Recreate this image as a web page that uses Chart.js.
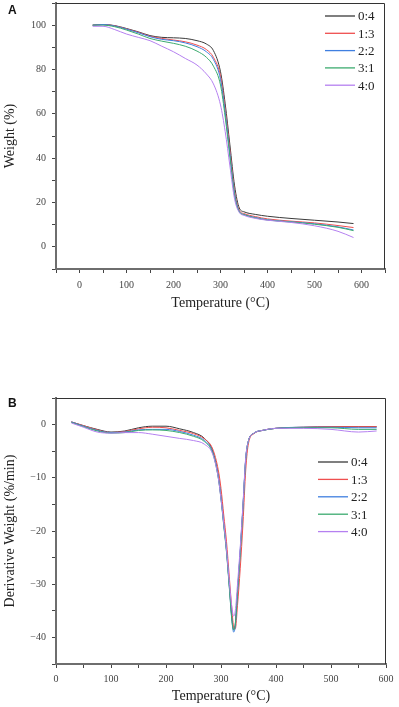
<!DOCTYPE html>
<html>
<head>
<meta charset="utf-8">
<script src="https://cdn.jsdelivr.net/npm/chart.js@4"></script>
<style>
  html, body { margin: 0; padding: 0; background: #fff; }
  #wrap { position: relative; width: 399px; height: 707px; overflow: hidden; }
  canvas { position: absolute; left: 0; }
  #cA { top: 0; }
  #cB { top: 380px; }
  .tag { position: absolute; font: bold 12px "Liberation Sans", Arial, sans-serif; color: #111; }
</style>
</head>
<body>
<div id="wrap">
  <canvas id="cA" width="399" height="320" style="width:399px;height:320px"></canvas>
  <canvas id="cB" width="399" height="327" style="width:399px;height:327px"></canvas>
  <div class="tag" style="left:8px;top:3px">A</div>
  <div class="tag" style="left:8px;top:396px">B</div>
</div>
<script>
// ---- data ----
const seriesNames = ["0:4", "1:3", "2:2", "3:1", "4:0"];
const seriesColors = ["#3a3a3a", "#ef4f4f", "#3f7fe0", "#3cab6f", "#b580f0"];

// A: TGA, weight (%)
const tgaTemp = [28, 50, 75, 100, 125, 150, 175, 200, 225, 250, 270, 285, 300, 310, 320, 330, 340, 350, 375, 400, 450, 500, 550, 583];
const w04 = [100, 100.3, 99.8, 98.5, 97, 95.3, 94.5, 94.3, 94, 93, 91.5, 88.5, 79, 64.5, 46, 27.5, 17.5, 15.8, 14.6, 13.8, 12.8, 12, 11.2, 10.5];
const w13 = [100, 100.3, 99.7, 98.3, 96.8, 95, 94, 93.3, 92.5, 91, 89, 85.5, 77, 62, 43.5, 25, 16.5, 15, 13.6, 12.6, 11.6, 10.8, 9.6, 8.7];
const w22 = [100, 100.3, 99.6, 98.2, 96.6, 94.8, 93.6, 93, 92, 90.3, 88, 84.5, 75.5, 60.5, 42, 24, 16, 14.6, 13.2, 12.2, 11.3, 10.4, 9, 7.6];
const w31 = [100, 100, 99.3, 97.8, 96, 94, 92.8, 91.8, 90.5, 88.3, 85.5, 81.5, 73, 58.5, 40.5, 23, 15.8, 14.5, 13, 12.1, 11.2, 10.2, 8.8, 7.3];
const w40 = [99.5, 99.5, 98, 96, 94.5, 93, 90.5, 88, 85, 82, 78, 73.5, 64, 52, 36.5, 21.5, 15.5, 14.2, 12.8, 12, 11, 9.5, 7, 4.2];

// B: DTG, derivative weight (%/min)
const dtgTemp = [28, 50, 75, 100, 125, 150, 175, 200, 225, 250, 270, 285, 295, 300, 305, 310, 315, 320, 323, 326, 330, 335, 340, 345, 350, 360, 375, 400, 450, 500, 550, 583];
const d04 = [0.5, -0.2, -0.9, -1.4, -1.2, -0.6, -0.3, -0.3, -0.8, -1.5, -2.6, -5, -9.5, -13.5, -18.5, -23.5, -30, -36.5, -38.5, -37.5, -31.5, -24, -15.5, -6.5, -3, -1.6, -1.1, -0.7, -0.5, -0.4, -0.4, -0.4];
const d13 = [0.5, -0.2, -1, -1.5, -1.3, -0.8, -0.5, -0.6, -1.1, -1.7, -2.7, -4.6, -8.5, -12, -17, -22, -28.5, -35, -38, -38.4, -34, -27, -18.5, -8.5, -3.5, -1.7, -1.1, -0.7, -0.5, -0.4, -0.4, -0.4];
const d22 = [0.5, -0.3, -1.1, -1.5, -1.4, -1, -0.9, -0.9, -1.3, -2, -3, -5.2, -9.8, -13.8, -18.8, -23.8, -30.3, -37, -39, -37.8, -31.5, -23.5, -15, -6.2, -3, -1.6, -1.1, -0.7, -0.5, -0.5, -0.6, -0.6];
const d31 = [0.4, -0.4, -1.2, -1.6, -1.5, -1.1, -1, -1.1, -1.5, -2.2, -3.2, -5.4, -10, -14, -19, -24, -30.5, -37, -38.6, -37.5, -31.5, -24, -15.5, -6.5, -3, -1.6, -1.1, -0.7, -0.6, -0.6, -0.9, -0.9];
const d40 = [0.3, -0.5, -1.4, -1.6, -1.5, -1.5, -1.8, -2.2, -2.6, -3, -3.7, -5.6, -10, -14, -18.5, -23.5, -29.5, -34.5, -36, -35, -30, -23, -15, -6.2, -3, -1.6, -1.1, -0.7, -0.7, -0.9, -1.4, -1.2];

const SERIF = '"Liberation Serif", "Times New Roman", serif';
const fmt = v => v < 0 ? "\u2212" + Math.abs(v) : String(v);

// frame on top/right + hand-placed legend
const framePlugin = {
  id: "frame",
  afterDraw(chart, args, o) {
    const { ctx, chartArea: a } = chart;
    ctx.save();
    ctx.strokeStyle = "#333";
    ctx.lineWidth = 1;
    ctx.beginPath();
    ctx.moveTo(a.left, a.top + 0.5);
    ctx.lineTo(a.right - 0.5, a.top + 0.5);
    ctx.lineTo(a.right - 0.5, a.bottom);
    ctx.stroke();

    ctx.font = "13px " + SERIF;
    ctx.textBaseline = "middle";
    ctx.textAlign = "left";
    chart.data.datasets.forEach((ds, i) => {
      const y = o.y + i * o.dy;
      ctx.strokeStyle = ds.borderColor;
      ctx.lineWidth = 1.3;
      ctx.beginPath();
      ctx.moveTo(o.x, y);
      ctx.lineTo(o.x + o.len, y);
      ctx.stroke();
      ctx.fillStyle = "#222";
      ctx.fillText(ds.label, o.x + o.len + 3, y + 1);
    });
    ctx.restore();
  }
};

function datasets(xs, ys) {
  return ys.map((vals, i) => ({
    label: seriesNames[i],
    data: xs.map((x, j) => ({ x: x, y: vals[j] })),
    borderColor: seriesColors[i],
    borderWidth: 1,
    pointRadius: 0,
    cubicInterpolationMode: "monotone",
    order: i === 4 ? 0 : 5 - i
  }));
}

function makeChart(el, cfg) {
  return new Chart(el, {
    type: "line",
    data: { datasets: datasets(cfg.xs, cfg.ys) },
    plugins: [framePlugin],
    options: {
      responsive: false,
      animation: false,
      events: [],
      layout: { padding: cfg.pad },
      plugins: { legend: { display: false }, tooltip: { enabled: false }, frame: cfg.legend },
      scales: {
        x: {
          type: "linear", min: cfg.xMin, max: cfg.xMax,
          afterFit: s => { s.height = cfg.xH; s.paddingLeft = 0; s.paddingRight = 0; },
          ticks: {
            stepSize: 50, autoSkip: false, maxRotation: 0, padding: cfg.xPad,
            color: "#444", font: { family: SERIF, size: 10 },
            callback: v => v % 100 === 0 ? fmt(v) : ""
          },
          grid: { drawOnChartArea: false, tickLength: 4, tickColor: "#444" },
          border: { color: "#6e6e6e", width: 2 },
          title: { display: true, text: "Temperature (\u00B0C)", color: "#222",
                   font: { family: SERIF, size: 14 }, padding: { top: 0, bottom: cfg.xTitlePad } }
        },
        y: {
          min: cfg.yMin, max: cfg.yMax,
          afterFit: s => { s.width = 56; s.paddingTop = 0; s.paddingBottom = 0; },
          ticks: {
            stepSize: cfg.yStep, autoSkip: false, padding: 6,
            color: "#444", font: { family: SERIF, size: 10 },
            callback: cfg.yLabel
          },
          grid: { drawOnChartArea: false, tickLength: 4, tickColor: "#444" },
          border: { color: "#6e6e6e", width: 2 },
          title: { display: true, text: cfg.yTitle, color: "#222",
                   font: { family: SERIF, size: 14 }, padding: { top: 2, bottom: 0 } }
        }
      }
    }
  });
}

makeChart(document.getElementById("cA"), {
  xs: tgaTemp, ys: [w04, w13, w22, w31, w40],
  xMin: -50, xMax: 650, yMin: -10, yMax: 110, yStep: 10,
  yLabel: v => (v % 20 === 0 && v >= 0 && v <= 100) ? fmt(v) : "",
  yTitle: "Weight (%)",
  pad: { top: 3, right: 14, left: 0, bottom: 0 },
  xH: 51, xPad: 6, xTitlePad: 8,
  legend: { x: 325, y: 16, dy: 17.3, len: 30 }
});

makeChart(document.getElementById("cB"), {
  xs: dtgTemp, ys: [d04, d13, d22, d31, d40],
  xMin: 0, xMax: 600, yMin: -45, yMax: 5, yStep: 5,
  yLabel: v => v % 10 === 0 ? fmt(v) : "",
  yTitle: "Derivative Weight (%/min)",
  pad: { top: 18, right: 13, left: 0, bottom: 0 },
  xH: 43, xPad: 5, xTitlePad: 2,
  legend: { x: 318, y: 82, dy: 17.4, len: 30 }
});
</script>
</body>
</html>
